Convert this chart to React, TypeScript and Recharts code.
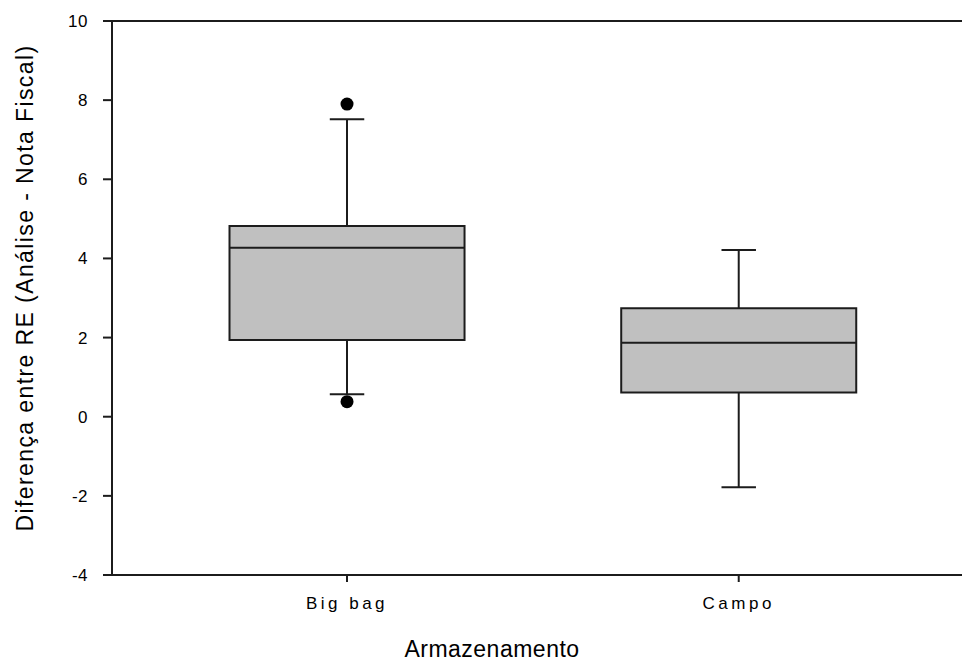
import { ComposedChart, ReferenceArea, ReferenceLine, Scatter, XAxis, YAxis } from 'recharts'

// Box plot summary per storage type
const categories = ['Big bag', 'Campo']
const positions = [1, 2]
const lowerWhisker = [0.57, -1.78]
const firstQuartile = [1.94, 0.61]
const medians = [4.27, 1.87]
const thirdQuartile = [4.82, 2.74]
const upperWhisker = [7.52, 4.21]

// Points beyond the whiskers (group index, value)
const outlierGroup = [0, 0]
const outlierValues = [7.9, 0.38]

const yTicks = [-4, -2, 0, 2, 4, 6, 8, 10]

const BOX_HALF = 0.3
const CAP_HALF = 0.044
const INK = '#1c1c1c'
const FONT = '"Liberation Sans", Arial, sans-serif'

const outliers = outlierValues.map((y, i) => ({ x: positions[outlierGroup[i]], y }))

const YTitle = ({ viewBox }: any) => {
  const x = viewBox.x + 33
  const y = viewBox.y + viewBox.height / 2 - 10
  return (
    <text
      x={x}
      y={y}
      transform={`rotate(-90, ${x}, ${y})`}
      textAnchor="middle"
      fontSize={23}
      letterSpacing={1.4}
      fill="#000"
      fontFamily={FONT}
    >
      Diferença entre RE (Análise - Nota Fiscal)
    </text>
  )
}

const XTitle = ({ viewBox }: any) => (
  <text
    x={viewBox.x + 380}
    y={viewBox.y + 82}
    textAnchor="middle"
    fontSize={23}
    letterSpacing={0.5}
    fill="#000"
    fontFamily={FONT}
  >
    Armazenamento
  </text>
)

const XTick = ({ x, y, payload }: any) => (
  <text
    x={x}
    y={y}
    dy="0.71em"
    textAnchor="middle"
    fontSize={17}
    letterSpacing={3.5}
    fill="#000"
    fontFamily={FONT}
  >
    {categories[positions.indexOf(payload.value)] ?? ''}
  </text>
)

const YTick = ({ x, y, payload }: any) => (
  <text
    x={x}
    y={y}
    dy="0.355em"
    textAnchor="end"
    fontSize={17}
    letterSpacing={0.5}
    fill="#000"
    fontFamily={FONT}
  >
    {payload.value}
  </text>
)

export default function App() {
  return (
    <div style={{ position: 'absolute', left: 0, top: 0, background: '#fff' }}>
      <ComposedChart
        width={962}
        height={664}
        margin={{ top: 21, right: 0, bottom: 0, left: 0 }}
        style={{ fontFamily: FONT }}
      >
        <XAxis
          type="number"
          dataKey="x"
          domain={[0.4, 2.57]}
          allowDataOverflow
          ticks={positions}
          interval={0}
          height={89}
          tickSize={7}
          tickMargin={15}
          axisLine={{ stroke: INK, strokeWidth: 2 }}
          tickLine={{ stroke: INK, strokeWidth: 2 }}
          tick={XTick}
          label={{ content: XTitle }}
        />
        <YAxis
          type="number"
          domain={[-4, 10]}
          allowDataOverflow
          ticks={yTicks}
          interval={0}
          width={112}
          tickSize={9}
          tickMargin={15}
          axisLine={{ stroke: INK, strokeWidth: 2 }}
          tickLine={{ stroke: INK, strokeWidth: 2 }}
          tick={YTick}
          label={{ content: YTitle }}
        />

        {/* frame line along the top of the plot */}
        <ReferenceLine y={10} stroke={INK} strokeWidth={2} />

        {positions.map((p, i) => (
          <ReferenceArea
            key={`box-${i}`}
            x1={p - BOX_HALF}
            x2={p + BOX_HALF}
            y1={firstQuartile[i]}
            y2={thirdQuartile[i]}
            fill="#c0c0c0"
            fillOpacity={1}
            stroke={INK}
            strokeWidth={2}
          />
        ))}
        {positions.map((p, i) => (
          <ReferenceLine
            key={`med-${i}`}
            segment={[
              { x: p - BOX_HALF, y: medians[i] },
              { x: p + BOX_HALF, y: medians[i] },
            ]}
            stroke={INK}
            strokeWidth={2}
          />
        ))}
        {positions.map((p, i) => (
          <ReferenceLine
            key={`wu-${i}`}
            segment={[
              { x: p, y: thirdQuartile[i] },
              { x: p, y: upperWhisker[i] },
            ]}
            stroke={INK}
            strokeWidth={2}
          />
        ))}
        {positions.map((p, i) => (
          <ReferenceLine
            key={`wl-${i}`}
            segment={[
              { x: p, y: firstQuartile[i] },
              { x: p, y: lowerWhisker[i] },
            ]}
            stroke={INK}
            strokeWidth={2}
          />
        ))}
        {positions.map((p, i) => (
          <ReferenceLine
            key={`cu-${i}`}
            segment={[
              { x: p - CAP_HALF, y: upperWhisker[i] },
              { x: p + CAP_HALF, y: upperWhisker[i] },
            ]}
            stroke={INK}
            strokeWidth={2}
          />
        ))}
        {positions.map((p, i) => (
          <ReferenceLine
            key={`cl-${i}`}
            segment={[
              { x: p - CAP_HALF, y: lowerWhisker[i] },
              { x: p + CAP_HALF, y: lowerWhisker[i] },
            ]}
            stroke={INK}
            strokeWidth={2}
          />
        ))}

        <Scatter
          data={outliers}
          dataKey="y"
          isAnimationActive={false}
          shape={(props: any) => <circle cx={props.cx} cy={props.cy} r={6.5} fill="#000" />}
        />
      </ComposedChart>
    </div>
  )
}
